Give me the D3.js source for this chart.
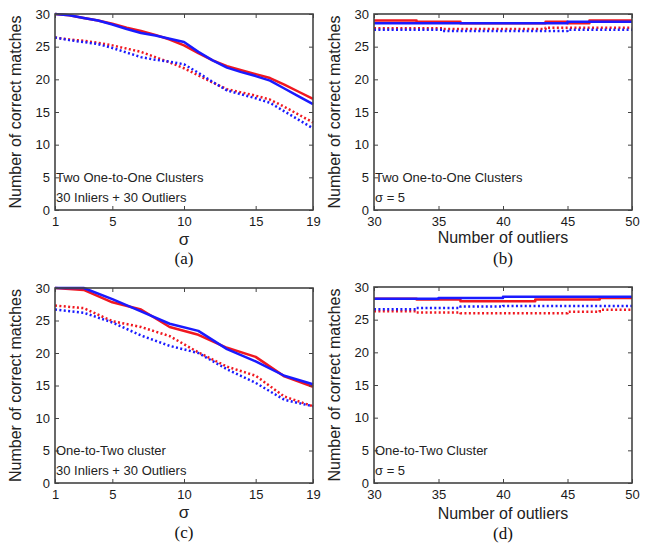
<!DOCTYPE html>
<html>
<head>
<meta charset="utf-8">
<script src="https://cdn.jsdelivr.net/npm/d3@7"></script>
<style>
  html, body { margin: 0; padding: 0; background: #fff; }
  svg { display: block; }
  .tick text { font-family: "Liberation Sans", Arial, sans-serif; font-size: 13px; fill: #1a1a1a; }
</style>
</head>
<body>
<svg id="chart" width="649" height="549"></svg>
<script>
// ---- data ----
const yTicks = [0, 5, 10, 15, 20, 25, 30];
const sigmaTicks = [1, 5, 10, 15, 19];
const outlierTicks = [30, 35, 40, 45, 50];

// (a) Two One-to-One Clusters, 30 inliers + 30 outliers
const sigmaA = [1, 2, 3, 4, 5, 6, 7, 8, 9, 10, 11, 12, 13, 14, 15, 16, 17, 18, 19];
const aRedSolid  = [30.0, 29.8, 29.4, 29.0, 28.5, 27.9, 27.4, 26.8, 26.1, 25.2, 24.0, 22.9, 22.0, 21.4, 20.8, 20.2, 19.2, 18.1, 17.0];
const aBlueSolid = [30.0, 29.8, 29.4, 29.0, 28.4, 27.7, 27.1, 26.7, 26.2, 25.7, 24.2, 22.9, 21.8, 21.1, 20.5, 19.8, 18.6, 17.4, 16.2];
const aRedDot    = [26.4, 26.1, 25.9, 25.6, 25.2, 24.7, 24.2, 23.4, 22.6, 21.7, 20.6, 19.5, 18.5, 18.0, 17.5, 16.9, 15.8, 14.6, 13.4];
const aBlueDot   = [26.4, 26.0, 25.7, 25.4, 24.8, 24.1, 23.4, 23.0, 22.7, 22.3, 21.0, 19.6, 18.3, 17.7, 17.1, 16.4, 15.1, 13.8, 12.5];

// (c) One-to-Two cluster, 30 inliers + 30 outliers
const sigmaC = [1, 3, 5, 7, 9, 11, 13, 15, 17, 19];
const cRedSolid  = [30.0, 29.7, 27.8, 26.7, 24.0, 22.8, 20.8, 19.4, 16.4, 14.8];
const cBlueSolid = [30.0, 30.0, 28.3, 26.4, 24.5, 23.4, 20.6, 18.7, 16.5, 15.2];
const cRedDot    = [27.3, 26.9, 24.9, 24.0, 22.6, 20.1, 17.9, 16.5, 13.3, 11.8];
const cBlueDot   = [26.7, 26.2, 24.7, 22.7, 21.1, 20.0, 17.5, 15.4, 12.8, 11.8];

// (b) Two One-to-One Clusters, sigma = 5 (step levels by number of outliers)
const bRedSolidX  = [30, 33.3, 36.7, 43.3, 45, 46.7, 50];
const bRedSolidY  = [29.0, 28.8, 28.6, 28.8, 28.6, 29.0, 29.0];
const bBlueSolidX = [30, 45, 50];
const bBlueSolidY = [28.6, 28.8, 28.8];
const bRedDotX    = [30, 35.3, 43.3, 50];
const bRedDotY    = [27.8, 27.7, 27.9, 27.9];
const bBlueDotX   = [30, 35.3, 45, 50];
const bBlueDotY   = [27.6, 27.4, 27.6, 27.6];

// (d) One-to-Two Cluster, sigma = 5
const dRedSolidX  = [30, 33.3, 36.7, 42.5, 47.5, 50];
const dRedSolidY  = [28.2, 28.1, 27.8, 28.1, 28.3, 28.3];
const dBlueSolidX = [30, 35, 40, 50];
const dBlueSolidY = [28.2, 28.3, 28.5, 28.5];
const dRedDotX    = [30, 33.3, 36.7, 45, 47.5, 50];
const dRedDotY    = [26.3, 26.1, 26.0, 26.2, 26.5, 26.5];
const dBlueDotX   = [30, 33.3, 36.7, 40, 50];
const dBlueDotY   = [26.6, 26.8, 27.0, 27.1, 27.1];

const RED = "#f01820";
const BLUE = "#1a1aff";

const svg = d3.select("#chart");
const sans = '"Liberation Sans", Arial, sans-serif';

function panel(opt) {
  const { left, right, top, bottom } = opt.box;
  const x = d3.scaleLinear().domain(opt.xDomain).range([left, right]);
  const y = d3.scaleLinear().domain([0, 30]).range([bottom, top]);
  const g = svg.append("g");

  // series
  opt.series.forEach(s => {
    const pts = s.x.map((v, i) => [v, s.y[i]]);
    const line = d3.line()
      .x(d => x(d[0])).y(d => y(d[1]))
      .curve(s.step ? d3.curveStepAfter : d3.curveLinear);
    g.append("path")
      .attr("d", line(pts))
      .attr("fill", "none")
      .attr("stroke", s.color)
      .attr("stroke-width", 2.5)
      .attr("stroke-dasharray", s.dotted ? "2,2.4" : null)
      .attr("stroke-linejoin", "round");
  });

  // axes (ticks point inward, mirrored on the opposite sides)
  const axisStyle = sel => {
    sel.select(".domain").remove();
    sel.selectAll(".tick line").attr("stroke", "#444").attr("stroke-width", 1);
  };
  g.append("g").attr("transform", `translate(0,${bottom})`)
    .call(d3.axisBottom(x).tickValues(opt.xTicks).tickSize(-4).tickPadding(7).tickFormat(d3.format("d")))
    .call(axisStyle);
  g.append("g").attr("transform", `translate(0,${top})`)
    .call(d3.axisTop(x).tickValues(opt.xTicks).tickSize(-4).tickFormat(""))
    .call(axisStyle);
  g.append("g").attr("transform", `translate(${left},0)`)
    .call(d3.axisLeft(y).tickValues(yTicks).tickSize(-4).tickPadding(5))
    .call(axisStyle);
  g.append("g").attr("transform", `translate(${right},0)`)
    .call(d3.axisRight(y).tickValues(yTicks).tickSize(-4).tickFormat(""))
    .call(axisStyle);
  g.selectAll(".tick text").attr("font-family", null).attr("font-size", null);

  // frame
  g.append("rect")
    .attr("x", left).attr("y", top)
    .attr("width", right - left).attr("height", bottom - top)
    .attr("fill", "none").attr("stroke", "#444").attr("stroke-width", 1.6);

  // annotations inside the plot
  opt.notes.forEach((t, i) => {
    g.append("text")
      .attr("x", left + 1).attr("y", bottom - 28 + i * 20)
      .attr("font-family", sans).attr("font-size", 13).attr("fill", "#222")
      .text(t);
  });

  // y axis title
  g.append("text")
    .attr("transform", `translate(${left - 34},${(top + bottom) / 2}) rotate(-90)`)
    .attr("text-anchor", "middle")
    .attr("font-family", sans).attr("font-size", 16).attr("fill", "#222")
    .text("Number of correct matches");

  // x axis title
  g.append("text")
    .attr("x", (left + right) / 2).attr("y", bottom + opt.xTitleDy)
    .attr("text-anchor", "middle")
    .attr("font-family", sans).attr("font-size", opt.xTitleSize).attr("fill", "#222")
    .text(opt.xTitle);

  // sub-figure caption
  g.append("text")
    .attr("x", (left + right) / 2).attr("y", bottom + opt.captionDy)
    .attr("text-anchor", "middle")
    .attr("font-family", '"Liberation Serif", "Times New Roman", serif').attr("font-size", 17).attr("fill", "#111")
    .text(opt.caption);
}

const sig = (xs, ys, color, dotted) => ({ x: xs, y: ys, color, dotted, step: false });
const stp = (xs, ys, color, dotted) => ({ x: xs, y: ys, color, dotted, step: true });

panel({
  box: { left: 55, right: 313, top: 14, bottom: 210 },
  xDomain: [1, 19], xTicks: sigmaTicks,
  xTitle: "σ", xTitleSize: 17, xTitleDy: 35, captionDy: 54,
  caption: "(a)",
  notes: ["Two One-to-One Clusters", "30 Inliers + 30 Outliers"],
  series: [
    sig(sigmaA, aRedSolid, RED, false),
    sig(sigmaA, aBlueSolid, BLUE, false),
    sig(sigmaA, aRedDot, RED, true),
    sig(sigmaA, aBlueDot, BLUE, true)
  ]
});

panel({
  box: { left: 374, right: 632, top: 14, bottom: 210 },
  xDomain: [30, 50], xTicks: outlierTicks,
  xTitle: "Number of outliers", xTitleSize: 16, xTitleDy: 33, captionDy: 54,
  caption: "(b)",
  notes: ["Two One-to-One Clusters", "σ = 5"],
  series: [
    stp(bRedSolidX, bRedSolidY, RED, false),
    stp(bBlueSolidX, bBlueSolidY, BLUE, false),
    stp(bRedDotX, bRedDotY, RED, true),
    stp(bBlueDotX, bBlueDotY, BLUE, true)
  ]
});

panel({
  box: { left: 55, right: 313, top: 288, bottom: 483 },
  xDomain: [1, 19], xTicks: sigmaTicks,
  xTitle: "σ", xTitleSize: 17, xTitleDy: 35, captionDy: 55,
  caption: "(c)",
  notes: ["One-to-Two cluster", "30 Inliers + 30 Outliers"],
  series: [
    sig(sigmaC, cRedSolid, RED, false),
    sig(sigmaC, cBlueSolid, BLUE, false),
    sig(sigmaC, cRedDot, RED, true),
    sig(sigmaC, cBlueDot, BLUE, true)
  ]
});

panel({
  box: { left: 374, right: 632, top: 287, bottom: 483 },
  xDomain: [30, 50], xTicks: outlierTicks,
  xTitle: "Number of outliers", xTitleSize: 16, xTitleDy: 36, captionDy: 56,
  caption: "(d)",
  notes: ["One-to-Two Cluster", "σ = 5"],
  series: [
    stp(dRedSolidX, dRedSolidY, RED, false),
    stp(dBlueSolidX, dBlueSolidY, BLUE, false),
    stp(dRedDotX, dRedDotY, RED, true),
    stp(dBlueDotX, dBlueDotY, BLUE, true)
  ]
});
</script>
</body>
</html>
